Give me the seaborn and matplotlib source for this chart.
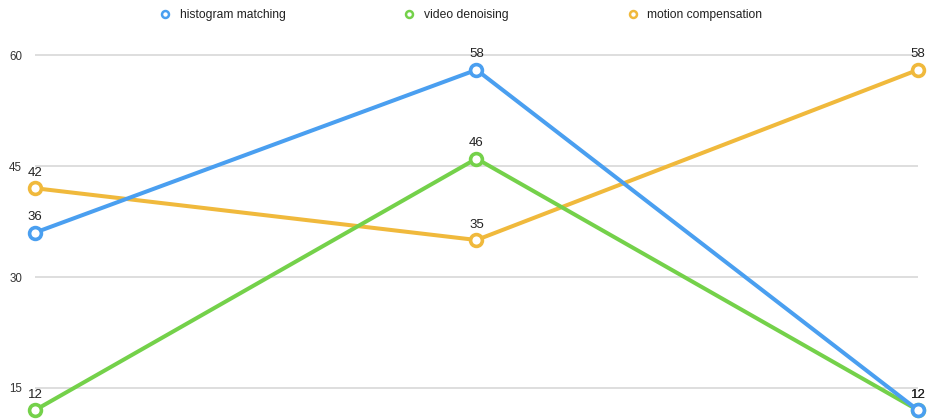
import matplotlib
matplotlib.use("Agg")
import matplotlib.pyplot as plt
from matplotlib.lines import Line2D
import seaborn as sns
import pandas as pd

# ---- data ----
categories = ["1", "2", "3"]
series_names = ["histogram matching", "video denoising", "motion compensation"]
histogram_matching = [36, 58, 12]
video_denoising = [12, 46, 12]
motion_compensation = [42, 35, 58]
y_ticks = [15, 30, 45, 60]
colors = ["#4a9ff0", "#74d14a", "#f0b93c"]

series_values = [histogram_matching, video_denoising, motion_compensation]
rows = []
for name, vals in zip(series_names, series_values):
    for i, (c, v) in enumerate(zip(categories, vals)):
        rows.append({"idx": i, "category": c, "series": name, "value": v})
df = pd.DataFrame(rows)

sns.set_theme(style="white")
plt.rcParams["font.family"] = ["Liberation Sans", "DejaVu Sans"]

W, H = 929, 419
fig = plt.figure(figsize=(W / 100, H / 100), dpi=100)
ax = fig.add_axes([35 / W, 0, (918 - 35) / W, (H - 40) / H])

palette = dict(zip(series_names, colors))
sns.lineplot(data=df, x="idx", y="value", hue="series", hue_order=series_names,
             palette=palette, marker="o", markersize=8.5, linewidth=2.9,
             legend=False, ax=ax, sort=False)

zorders = [5, 4, 3]
for line, col, z in zip(ax.lines, colors, zorders):
    line.set_markerfacecolor("white")
    line.set_markeredgecolor(col)
    line.set_markeredgewidth(2.6)
    line.set_clip_on(False)
    line.set_zorder(z)

# value labels
for name, vals in zip(series_names, series_values):
    for i, v in enumerate(vals):
        ax.annotate(str(v), (i, v), xytext=(0, 9), textcoords="offset points",
                    ha="center", va="baseline", fontsize=9.5, color="#222222",
                    zorder=6, annotation_clip=False)

ax.set_xlim(0, len(categories) - 1)
ax.set_ylim(10.81, 62.03)
ax.set_yticks(y_ticks)
ax.set_yticklabels([str(t) for t in y_ticks], fontsize=8.3, color="#333333")
ax.set_xticks([])
ax.tick_params(axis="y", length=0, pad=9.4)
ax.set_xlabel("")
ax.set_ylabel("")
ax.grid(axis="y", color="#d4d4d4", linewidth=1.1)
ax.set_axisbelow(True)
for s in ax.spines.values():
    s.set_visible(False)

handles = [Line2D([], [], linestyle="none", marker="o", markersize=5,
                  markerfacecolor="white", markeredgecolor=c, markeredgewidth=1.8)
           for c in colors]
fig.legend(handles, series_names, loc="center", ncol=3,
           bbox_to_anchor=(0.5 - 4 / W, 1 - 15 / H), frameon=False, fontsize=8.75,
           handlelength=1.0, handletextpad=0.7, columnspacing=9.7,
           labelcolor="#222222")

fig.savefig("out.png", dpi=100)
